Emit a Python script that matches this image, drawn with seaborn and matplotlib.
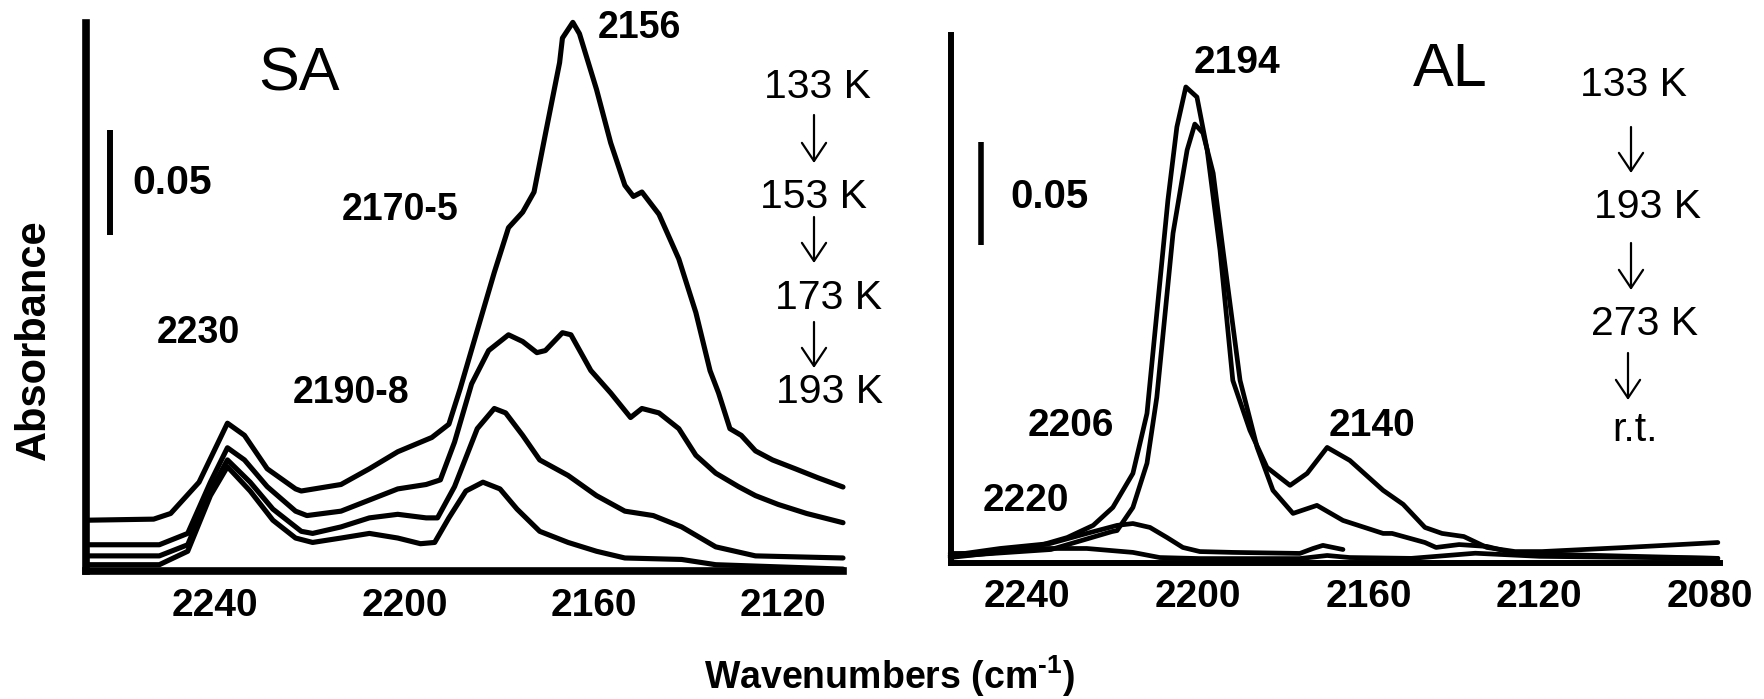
import matplotlib
matplotlib.use("Agg")
import matplotlib.pyplot as plt
import seaborn as sns
import pandas as pd

# ---------------- data ----------------
# Left panel "SA"
sa_133_wn = [2266.8, 2253.0, 2249.4, 2243.4, 2237.4, 2233.8, 2229.0, 2223.0, 2221.8, 2213.4, 2207.4, 2201.4,
             2194.2, 2190.6, 2188.2, 2184.6, 2181.0, 2178.0, 2175.0, 2172.6, 2170.2, 2167.2, 2166.6, 2164.4,
             2163.0, 2159.4, 2156.4, 2153.4, 2151.6, 2149.8, 2146.2, 2142.0, 2138.4, 2135.4, 2133.6, 2131.2,
             2128.8, 2125.8, 2122.2, 2117.4, 2112.6, 2107.3]
sa_133_abs = [0.0242, 0.0247, 0.0274, 0.0423, 0.0704, 0.0646, 0.0487, 0.0391, 0.0381, 0.0412, 0.0487, 0.0568,
              0.0636, 0.0699, 0.0869, 0.1146, 0.1422, 0.1635, 0.1709, 0.1805, 0.2081, 0.2421, 0.2538, 0.2613,
              0.2559, 0.2294, 0.2039, 0.1837, 0.1784, 0.1805, 0.1699, 0.1486, 0.1231, 0.0954, 0.0848, 0.0678,
              0.0646, 0.0572, 0.0529, 0.0487, 0.0444, 0.0400]

sa_153_wn = [2266.8, 2251.8, 2245.8, 2241.0, 2237.4, 2233.8, 2229.0, 2223.0, 2220.6, 2213.4, 2207.4, 2201.4,
             2195.4, 2192.4, 2189.4, 2185.8, 2182.2, 2178.0, 2175.0, 2172.0, 2170.2, 2166.6, 2164.8, 2160.6,
             2156.4, 2152.2, 2149.8, 2146.2, 2142.0, 2138.4, 2134.2, 2129.4, 2125.8, 2121.0, 2115.0, 2107.3]
sa_153_abs = [0.0125, 0.0125, 0.0179, 0.0423, 0.0587, 0.0529, 0.0402, 0.0285, 0.0264, 0.0285, 0.0338, 0.0391,
              0.0412, 0.0434, 0.0614, 0.0891, 0.1050, 0.1125, 0.1093, 0.1040, 0.1050, 0.1135, 0.1125, 0.0955,
              0.0848, 0.0731, 0.0774, 0.0753, 0.0678, 0.0551, 0.0466, 0.0402, 0.0359, 0.0317, 0.0274, 0.0230]

sa_173_wn = [2266.8, 2251.8, 2245.8, 2241.0, 2237.4, 2232.6, 2227.8, 2221.8, 2219.4, 2213.4, 2207.4, 2201.4,
             2195.4, 2193.0, 2189.4, 2184.6, 2181.0, 2178.6, 2175.0, 2171.4, 2165.4, 2159.4, 2153.4, 2147.4,
             2141.4, 2134.2, 2125.8, 2107.3]
sa_173_abs = [0.0072, 0.0072, 0.0125, 0.0381, 0.0529, 0.0423, 0.0295, 0.0189, 0.0179, 0.0210, 0.0253, 0.0270,
              0.0253, 0.0253, 0.0402, 0.0678, 0.0774, 0.0753, 0.0646, 0.0529, 0.0455, 0.0359, 0.0285, 0.0264,
              0.0210, 0.0115, 0.0072, 0.0062]

sa_193_wn = [2266.8, 2251.8, 2245.8, 2241.0, 2237.4, 2232.6, 2227.8, 2223.0, 2219.4, 2213.4, 2207.4, 2201.4,
             2196.6, 2193.6, 2190.6, 2187.0, 2183.4, 2179.8, 2176.2, 2171.4, 2165.4, 2159.4, 2153.4, 2141.4,
             2134.2, 2107.3]
sa_193_abs = [0.0030, 0.0030, 0.0094, 0.0359, 0.0497, 0.0381, 0.0242, 0.0157, 0.0136, 0.0157, 0.0179, 0.0157,
              0.0130, 0.0136, 0.0253, 0.0381, 0.0423, 0.0391, 0.0295, 0.0189, 0.0136, 0.0094, 0.0062, 0.0055,
              0.0030, 0.0009]

# Right panel "AL"
al_133_wn = [2258.0, 2250.3, 2238.6, 2230.6, 2224.5, 2219.9, 2215.2, 2211.9, 2207.0, 2204.9, 2202.8, 2200.2,
             2197.8, 2194.8, 2191.8, 2187.8, 2183.8, 2178.4, 2174.4, 2169.7, 2164.4, 2156.6, 2151.9, 2146.8,
             2142.8, 2137.7, 2132.3, 2125.7, 2119.4, 2099.7, 2078.2]
al_133_abs = [0.0044, 0.0044, 0.0073, 0.0121, 0.0180, 0.0267, 0.0432, 0.0723, 0.1757, 0.2112, 0.2306, 0.2257,
              0.2000, 0.1515, 0.0883, 0.0641, 0.0461, 0.0374, 0.0432, 0.0558, 0.0495, 0.0350, 0.0282, 0.0170,
              0.0141, 0.0126, 0.0073, 0.0053, 0.0053, 0.0073, 0.0097]

al_193_wn = [2258.0, 2234.4, 2220.1, 2218.9, 2215.2, 2211.9, 2209.6, 2205.8, 2202.5, 2200.7, 2198.8, 2196.4,
             2194.1, 2190.1, 2186.1, 2182.4, 2177.7, 2172.1, 2166.0, 2156.6, 2154.5, 2146.8, 2144.2, 2138.8,
             2132.3, 2125.7, 2078.2]
al_193_abs = [0.0030, 0.0063, 0.0150, 0.0155, 0.0267, 0.0481, 0.0801, 0.1597, 0.2000, 0.2126, 0.2083, 0.1888,
              0.1515, 0.0883, 0.0558, 0.0350, 0.0238, 0.0277, 0.0204, 0.0141, 0.0141, 0.0097, 0.0073, 0.0087,
              0.0078, 0.0044, 0.0020]

al_273_wn = [2258.0, 2246.3, 2234.6, 2226.0, 2218.9, 2215.2, 2211.2, 2207.2, 2203.5, 2199.5, 2191.8, 2176.1,
             2173.0, 2170.7, 2166.0]
al_273_abs = [0.0034, 0.0068, 0.0092, 0.0141, 0.0180, 0.0189, 0.0170, 0.0121, 0.0073, 0.0053, 0.0049, 0.0044,
              0.0068, 0.0083, 0.0063]

al_rt_wn = [2258.0, 2238.6, 2226.0, 2215.2, 2208.9, 2199.5, 2176.1, 2169.7, 2164.4, 2150.0, 2135.0, 2130.0,
            2120.0, 2078.2]
al_rt_abs = [0.0024, 0.0068, 0.0068, 0.0049, 0.0024, 0.0019, 0.0019, 0.0034, 0.0024, 0.0020, 0.0045, 0.0040,
             0.0030, 0.0020]

sa_ticks = [2240, 2200, 2160, 2120]
al_ticks = [2240, 2200, 2160, 2120, 2080]
sa_temps = ["133 K", "153 K", "173 K", "193 K"]
al_temps = ["133 K", "193 K", "273 K", "r.t."]
sa_peaks = ["2156", "2170-5", "2230", "2190-8"]
al_peaks = ["2194", "2206", "2140", "2220"]

# ---------------- styling ----------------
sns.set_style("white")
plt.rcParams["font.family"] = ["Liberation Sans", "DejaVu Sans"]
plt.rcParams["text.color"] = "black"
plt.rcParams["xtick.color"] = "black"
plt.rcParams["xtick.labelcolor"] = "black"
plt.rcParams["axes.labelcolor"] = "black"
plt.rcParams["mathtext.fontset"] = "custom"
plt.rcParams["mathtext.rm"] = "Liberation Sans:bold"
plt.rcParams["mathtext.bf"] = "Liberation Sans:bold"
plt.rcParams["mathtext.it"] = "Liberation Sans:bold"

W, H = 1764, 699
fig = plt.figure(figsize=(W / 100, H / 100), dpi=100)


def frac(px, py):
    return px / W, 1 - py / H


def make_df(series):
    rows = []
    for name, wn, ab in series:
        for a, b in zip(wn, ab):
            rows.append({"series": name, "wn": a, "abs": b})
    return pd.DataFrame(rows)


# axes positions (figure fractions)
axL = fig.add_axes([85.5 / W, 1 - 571 / H, (843 - 85.5) / W, (571 - 23) / H])
axR = fig.add_axes([951 / W, 1 - 562.5 / H, (1720 - 951) / W, (562.5 - 35) / H])

dfL = make_df([("133", sa_133_wn, sa_133_abs), ("153", sa_153_wn, sa_153_abs),
               ("173", sa_173_wn, sa_173_abs), ("193", sa_193_wn, sa_193_abs)])
dfR = make_df([("133", al_133_wn, al_133_abs), ("193", al_193_wn, al_193_abs),
               ("273", al_273_wn, al_273_abs), ("rt", al_rt_wn, al_rt_abs)])

sns.lineplot(data=dfL, x="wn", y="abs", units="series", estimator=None, sort=False,
             color="black", lw=3.7, ax=axL, legend=False)
sns.lineplot(data=dfR, x="wn", y="abs", units="series", estimator=None, sort=False,
             color="black", lw=3.4, ax=axR, legend=False)
for ax in (axL, axR):
    for ln in ax.lines:
        ln.set_clip_on(False)
        ln.set_solid_joinstyle("round")
        ln.set_solid_capstyle("round")

axL.set_xlim(2267.4, 2107.3)
axL.set_ylim(0, 0.261)
axR.set_xlim(2257.8, 2077.7)
axR.set_ylim(0, 0.2558)

for ax, ticks, lw in ((axL, sa_ticks, 5.5), (axR, al_ticks, 4.3)):
    ax.set_xticks(ticks)
    ax.set_xticklabels([str(t) for t in ticks], fontweight="bold", color="black")
    ax.set_yticks([])
    ax.tick_params(axis="x", length=0, pad=12, labelsize=28)
    ax.set_xlabel("")
    ax.set_ylabel("")
    for s in ("top", "right"):
        ax.spines[s].set_visible(False)
    for s in ("left", "bottom"):
        ax.spines[s].set_linewidth(lw)
        ax.spines[s].set_color("black")
        ax.spines[s].set_capstyle("projecting")

# scale bars (0.05 absorbance)
axL.plot([2262.2, 2262.2], [0.160, 0.210], color="black", lw=4.3, solid_capstyle="butt")
axR.plot([2250.8, 2250.8], [0.154, 0.204], color="black", lw=4.0, solid_capstyle="butt")
fig.text(*frac(132, 183), "0.05", fontsize=29.5, fontweight="bold", ha="left", va="center")
fig.text(*frac(1010, 197), "0.05", fontsize=29, fontweight="bold", ha="left", va="center")

# panel names
fig.text(*frac(299, 75), "SA", fontsize=44, ha="center", va="center")
fig.text(*frac(1450, 70), "AL", fontsize=44, ha="center", va="center")

# peak labels
for txt, (px, py) in zip(sa_peaks, [(639, 28), (400, 210), (198, 333), (351, 393)]):
    fig.text(*frac(px, py), txt, fontsize=27, fontweight="bold", ha="center", va="center")
for txt, (px, py) in zip(al_peaks, [(1237, 63), (1071, 426), (1372, 426), (1026, 501)]):
    fig.text(*frac(px, py), txt, fontsize=28, fontweight="bold", ha="center", va="center")

# temperature sequences
for txt, (px, py) in zip(sa_temps, [(817, 87), (814, 197), (829, 298), (830, 392)]):
    fig.text(*frac(px, py), txt, fontsize=29.5, ha="center", va="center")
for txt, (px, py) in zip(al_temps, [(1633, 85), (1648, 207), (1645, 324), (1635, 430)]):
    fig.text(*frac(px, py), txt, fontsize=29.5, ha="center", va="center")

arrow_props = dict(arrowstyle="->,head_length=0.45,head_width=0.3", lw=1.6, color="black",
                   mutation_scale=29, shrinkA=0, shrinkB=0)
for (px, y0, y1) in [(814, 115, 163), (814, 217, 263), (814, 322, 368),
                     (1631, 127, 173), (1631, 243, 290), (1628, 353, 400)]:
    fig.add_artist(matplotlib.patches.FancyArrowPatch(
        frac(px, y0), frac(px, y1), transform=fig.transFigure, **arrow_props))

# axis titles
fig.text(*frac(34, 340), "Absorbance", fontsize=30, fontweight="bold", rotation=90,
         ha="center", va="center")
fig.text(*frac(889, 676), "Wavenumbers (cm$^{\\mathbf{\u2010}\\mathbf{1}}$)", fontsize=27,
         fontweight="bold", ha="center", va="center")

fig.savefig("out.png", dpi=100)
